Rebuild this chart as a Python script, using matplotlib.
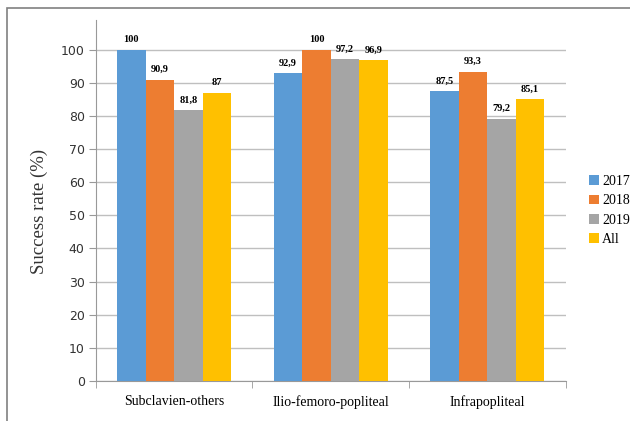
import matplotlib
matplotlib.use('Agg')
import matplotlib.pyplot as plt
import numpy as np
from matplotlib.patches import Rectangle

# Tassi di successo per distretto e anno
categories = ['Subclavien-others', 'Ilio-femoro-popliteal', 'Infrapopliteal']
series_names = ['2017', '2018', '2019', 'All']
rate_2017 = [100, 92.9, 87.5]
rate_2018 = [90.9, 100, 93.3]
rate_2019 = [81.8, 97.2, 79.2]
rate_all = [87, 96.9, 85.1]
y_ticks = [0, 10, 20, 30, 40, 50, 60, 70, 80, 90, 100]

colors = ['#5B9BD5', '#ED7D31', '#A5A5A5', '#FFC000']
serif = 'Liberation Serif'

fig = plt.figure(figsize=(6.3, 4.21), dpi=100)
ax = fig.add_axes([0.152, 0.095, 0.746, 0.858])

x = np.arange(len(categories))
width = 0.182
all_series = [rate_2017, rate_2018, rate_2019, rate_all]
for i, (name, vals) in enumerate(zip(series_names, all_series)):
    pos = x + (i - 1.5) * width
    bars = ax.bar(pos, vals, width, color=colors[i], label=name, zorder=3)
    for b, v in zip(bars, vals):
        txt = f'{v:g}'.replace('.', ',')
        ax.annotate(txt, (b.get_x() + b.get_width() / 2, v),
                    xytext=(0, 4), textcoords='offset points',
                    ha='center', va='bottom', fontsize=7.5,
                    fontweight='bold', family=serif)

ax.set_xlim(-0.5, 2.5)
ax.set_ylim(0, 109)
ax.set_yticks(y_ticks)
ax.yaxis.grid(True, color='#BFBFBF', lw=1, zorder=0)
ax.tick_params(axis='y', labelsize=9, colors='#333333', length=5,
               color='#999999', pad=3)
ax.set_xticks(x)
ax.set_xticklabels(categories, family=serif, fontsize=10)
ax.set_xticks([-0.5, 0.5, 1.5, 2.5], minor=True)
ax.tick_params(axis='x', which='major', length=0, pad=10)
ax.tick_params(axis='x', which='minor', length=5, color='#999999')

for side in ['top', 'right']:
    ax.spines[side].set_visible(False)
ax.spines['left'].set_color('#999999')
ax.spines['bottom'].set_color('#999999')

fig.text(0.063, 0.497, 'Success rate (%)', rotation=90, ha='center', va='center',
         family=serif, fontsize=13.5, color='#333333')

fig.legend(loc='center left', bbox_to_anchor=(0.915, 0.5), frameon=False,
           handlelength=0.7, handleheight=0.7, handletextpad=0.25,
           labelspacing=0.45, prop={'family': serif, 'size': 10})

# cornice esterna (solo bordo superiore e sinistro visibili)
fig.patches.append(Rectangle((0.011, -0.1), 1.2, 1.081, transform=fig.transFigure,
                             fill=False, edgecolor='#808080', lw=1.2))

fig.savefig('out.png', dpi=100)
